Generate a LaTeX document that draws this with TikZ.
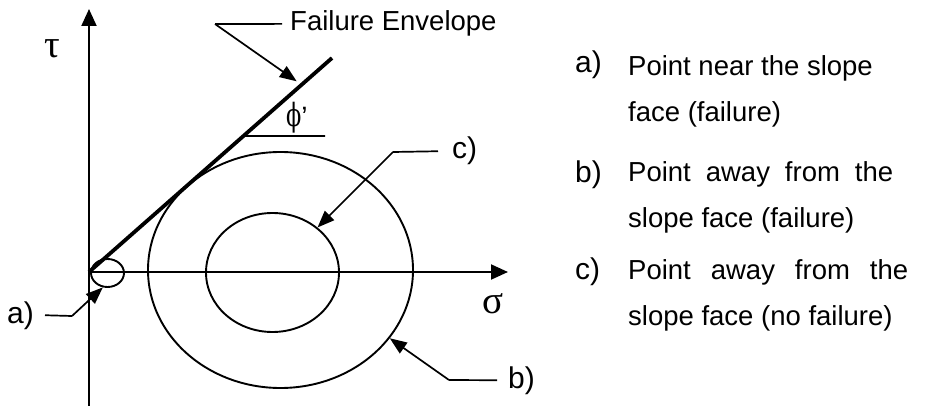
\documentclass[tikz,border=0pt]{standalone}
\usepackage{fontspec}
\setmainfont{Liberation Sans}
\newfontfamily\grserif{Liberation Serif}
\newfontfamily\dvserif{DejaVu Serif}
\usetikzlibrary{arrows.meta,calc,shapes.geometric}
\begin{document}
\begin{tikzpicture}[x=1pt,y=-1pt,
  axisline/.style={line width=2pt,-{Triangle[length=17pt,width=15pt]}},
  leader/.style={line width=1.7pt,-{Triangle[length=17pt,width=13pt]}},
  curve/.style={draw,ellipse,line width=1.9pt,inner sep=0pt},
  body/.style={inner sep=0pt,anchor=base west,font=\fontsize{27.5}{30}\selectfont},
  lbl/.style={inner ysep=0pt,font=\fontsize{30}{32}\selectfont},
  greek/.style={inner sep=0pt,anchor=base west,font=\fontsize{39}{40}\selectfont\grserif}]
\useasboundingbox (0,0) rectangle (929,406);
% axes
\coordinate (tauBot) at (89,406);
\coordinate (tauTop) at (89,9);
\coordinate (O) at (89,272);
\coordinate (sigEnd) at (508,272);
\coordinate (E) at (332,58);
\draw[axisline] (tauBot) -- (tauTop);
\draw[axisline] (O) -- (sigEnd);
\node[greek] (tau) at (44,58) {τ};
\node[greek] (sig) at (482,313) {σ};
% failure envelope
\draw[line width=3.8pt] (O) -- (E);
\coordinate (phiA) at ($(O)!0.6355!(E)$);
\coordinate (phiB) at (325,136);
\draw[line width=1.9pt] (phiA) -- (phiB);
\node[inner sep=0pt,anchor=base west] (phi) at (286,127)
  {\fontsize{32}{33}\selectfont\dvserif\scalebox{0.7}[1]{ϕ}\fontsize{28}{30}\selectfont\rmfamily’};
% Mohr circles
\node[curve,minimum width=265pt,minimum height=236pt] (bigE) at (280.5,270) {};
\node[curve,minimum width=133pt,minimum height=119pt] (smallE) at (272.5,272.5) {};
\node[curve,minimum width=33pt,minimum height=28pt] (aE) at (107.5,273) {};
% Failure Envelope leader
\coordinate (feElbow) at (215,24);
\coordinate (envTip) at ($(O)!0.875!(E)$);
\node[body,inner xsep=8pt] (fe) at (282,31) {Failure Envelope};
\draw[line width=1.7pt] (fe.west) -- (feElbow);
\draw[leader,shorten >=6pt] (feElbow) -- (envTip);
% a) leader
\node[lbl,inner xsep=11pt,anchor=base east] (aL) at (45,323) {a)};
\coordinate (aElbow) at (72,316);
\draw[line width=1.7pt] (aL.east) -- (aElbow);
\draw[leader] (aElbow) -- (aE.-108);
% c) leader
\node[lbl,inner xsep=14pt,anchor=base west] (cL) at (438,159) {c)};
\coordinate (cElbow) at (393,152);
\draw[line width=1.7pt] (cL.west) -- (cElbow);
\draw[leader] (cElbow) -- (smallE.45);
% b) leader
\node[lbl,inner xsep=11pt,anchor=base west] (bL) at (497,388) {b)};
\coordinate (bElbow) at (449,380);
\draw[line width=1.7pt] (bL.west) -- (bElbow);
\draw[leader] (bElbow) -- (bigE.-32);
% legend text
\node[lbl,inner sep=0pt,anchor=base west] (ra) at (575,73) {a)};
\node[body] (ra1) at (628,76) {Point near the slope};
\node[body] (ra2) at (628,122) {face (failure)};
\node[lbl,inner sep=0pt,anchor=base west] (rb) at (575,183) {b)};
\node[body] (rb1) at (628,182) {\hbox to 265pt{Point\hfill away\hfill from\hfill the}};
\node[body] (rb2) at (628,228) {slope face (failure)};
\node[lbl,inner sep=0pt,anchor=base west] (rc) at (575,279) {c)};
\node[body] (rc1) at (628,279) {\hbox to 280pt{Point\hfill away\hfill from\hfill the}};
\node[body] (rc2) at (628,325) {slope face (no failure)};
\end{tikzpicture}
\end{document}
